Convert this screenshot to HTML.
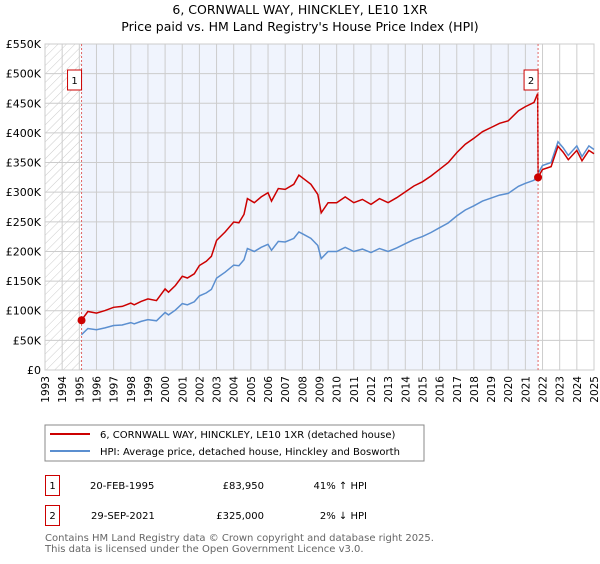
<!DOCTYPE html>
<html><head><meta charset="utf-8"><style>
body{margin:0;background:#fff;font-family:"DejaVu Sans","Liberation Sans",sans-serif;}
svg text{font-family:"DejaVu Sans","Liberation Sans",sans-serif;}
</style></head><body>
<svg id="chart" width="600" height="560" xmlns="http://www.w3.org/2000/svg">
<defs><pattern id="hatch" width="6" height="6" patternUnits="userSpaceOnUse" patternTransform="rotate(45)"><line x1="0" y1="0" x2="0" y2="6" stroke="#ccc" stroke-width="1"/></pattern></defs>
<text x="300" y="14" text-anchor="middle" font-size="12.5">6, CORNWALL WAY, HINCKLEY, LE10 1XR</text>
<text x="300" y="31" text-anchor="middle" font-size="12.5">Price paid vs. HM Land Registry's House Price Index (HPI)</text>
<g id="plot"></g>
<g id="legend">
<rect x="45" y="425" width="379" height="36" fill="#fff" stroke="#888"/>
<line x1="50" y1="434" x2="90" y2="434" stroke="#cc0000" stroke-width="2"/>
<text x="100" y="438" font-size="10">6, CORNWALL WAY, HINCKLEY, LE10 1XR (detached house)</text>
<line x1="50" y1="451" x2="90" y2="451" stroke="#5b8fd0" stroke-width="2"/>
<text x="100" y="455" font-size="10">HPI: Average price, detached house, Hinckley and Bosworth</text>
</g>
<g font-size="10">
<rect x="45.5" y="475.5" width="14" height="20" fill="#fff" stroke="#cc0000"/>
<text x="52.5" y="489" text-anchor="middle">1</text>
<text x="90" y="489">20-FEB-1995</text>
<text x="264" y="489" text-anchor="end">£83,950</text>
<text x="367" y="489" text-anchor="end">41% ↑ HPI</text>
<rect x="45.5" y="505.5" width="14" height="20" fill="#fff" stroke="#cc0000"/>
<text x="52.5" y="519" text-anchor="middle">2</text>
<text x="91" y="519">29-SEP-2021</text>
<text x="264" y="519" text-anchor="end">£325,000</text>
<text x="367" y="519" text-anchor="end">2% ↓ HPI</text>
</g>
<text x="45" y="541" font-size="10" fill="#666">Contains HM Land Registry data © Crown copyright and database right 2025.</text>
<text x="45" y="552" font-size="10" fill="#666">This data is licensed under the Open Government Licence v3.0.</text>
</svg>
<script>
const yearTicks=[1993,1994,1995,1996,1997,1998,1999,2000,2001,2002,2003,2004,2005,2006,2007,2008,2009,2010,2011,2012,2013,2014,2015,2016,2017,2018,2019,2020,2021,2022,2023,2024,2025];
const valueTicks=[0,50000,100000,150000,200000,250000,300000,350000,400000,450000,500000,550000];
const valueTickLabels=["£0","£50K","£100K","£150K","£200K","£250K","£300K","£350K","£400K","£450K","£500K","£550K"];
const hpiDates=[1995.13,1995.5,1996,1996.5,1997,1997.5,1998,1998.2,1998.6,1999,1999.5,2000,2000.2,2000.6,2001,2001.3,2001.7,2002,2002.4,2002.7,2003,2003.5,2004,2004.3,2004.6,2004.8,2005.2,2005.6,2006,2006.2,2006.6,2007,2007.5,2007.8,2008,2008.5,2008.9,2009.1,2009.5,2010,2010.5,2011,2011.5,2012,2012.5,2013,2013.5,2014,2014.5,2015,2015.5,2016,2016.5,2017,2017.5,2018,2018.5,2019,2019.5,2020,2020.6,2021,2021.5,2021.75,2022,2022.5,2022.9,2023.2,2023.5,2024,2024.3,2024.7,2025];
const hpiValues=[59500,70000,68000,71000,75000,76000,80000,78000,82000,85000,83000,97000,93000,101000,112000,110000,115000,125000,130000,136000,155000,165000,177000,176000,186000,205000,200000,207000,212000,202000,217000,216000,222000,233000,230000,222000,210000,188000,200000,200000,207000,200000,204000,198000,205000,200000,206000,213000,220000,225000,232000,240000,248000,260000,270000,277000,285000,290000,295000,298000,310000,315000,320000,332000,345000,350000,385000,375000,362000,378000,360000,378000,372000];
const saleDates=[1995.13,2021.74];
const salePrices=[83950,325000];
const NS="http://www.w3.org/2000/svg";
const L=45,R=594,T=44,B=370;
const xS=y=>L+(y-1993)/(2025-1993)*(R-L);
const yS=v=>B-v/550000*(B-T);
const plot=document.getElementById('plot');
function mk(tag,attrs,parent){const e=document.createElementNS(NS,tag);for(const k in attrs)e.setAttribute(k,attrs[k]);(parent||plot).appendChild(e);return e;}
mk('rect',{x:L,y:T,width:R-L,height:B-T,fill:'#fff'});
mk('rect',{x:L,y:T,width:xS(saleDates[0])-L,height:B-T,fill:'url(#hatch)'});
mk('rect',{x:xS(saleDates[0]),y:T,width:xS(saleDates[1])-xS(saleDates[0]),height:B-T,fill:'#f0f4fd'});
yearTicks.forEach(yr=>{const g=mk('line',{x1:xS(yr),x2:xS(yr),y1:T,y2:B,stroke:'#ccc'});

const t=mk('text',{x:0,y:0,'font-size':10.5,'text-anchor':'end',transform:`translate(${xS(yr)+4},${B+6}) rotate(-90)`});
t.textContent=yr;});
valueTicks.forEach((v,i)=>{const g=mk('line',{x1:L,x2:R,y1:yS(v),y2:yS(v),stroke:'#ccc'});

const t=mk('text',{x:L-4,y:yS(v)+4,'font-size':11,'text-anchor':'end'});
t.textContent=valueTickLabels[i];});
mk('rect',{x:L,y:T,width:R-L,height:B-T,fill:'none',stroke:'#ccc'});
// HPI line
const hp=mk('path',{d:hpiDates.map((d,i)=>(i?'L':'M')+xS(d).toFixed(1)+','+yS(hpiValues[i]).toFixed(1)).join(''),fill:'none',stroke:'#5b8fd0','stroke-width':1.5});

// property line indexed from sales
function hpiAt(d){for(let i=1;i<hpiDates.length;i++){if(d<=hpiDates[i]){const f=(d-hpiDates[i-1])/(hpiDates[i]-hpiDates[i-1]);return hpiValues[i-1]+f*(hpiValues[i]-hpiValues[i-1]);}}return hpiValues[hpiValues.length-1];}
const r1=salePrices[0]/hpiAt(saleDates[0]),r2=salePrices[1]/hpiAt(saleDates[1]);
let pts=[];
hpiDates.forEach((d,i)=>{if(d<saleDates[1])pts.push([d,hpiValues[i]*r1]);});
pts.push([saleDates[1]-0.02,hpiAt(saleDates[1]-0.02)*r1]);
pts.push([saleDates[1],salePrices[1]]);
hpiDates.forEach((d,i)=>{if(d>saleDates[1])pts.push([d,hpiValues[i]*r2]);});
const pp=mk('path',{d:pts.map((p,i)=>(i?'L':'M')+xS(p[0]).toFixed(1)+','+yS(p[1]).toFixed(1)).join(''),fill:'none',stroke:'#cc0000','stroke-width':1.5});

saleDates.forEach((d,i)=>{
const vl=mk('line',{x1:xS(d),x2:xS(d),y1:T,y2:B,stroke:'#e06666','stroke-dasharray':'2,2'});

const c=mk('circle',{cx:xS(d),cy:yS(salePrices[i]),r:4,fill:'#cc0000'});

const bx=mk('rect',{x:xS(d)-14,y:70,width:14,height:20,fill:'#fff',stroke:'#cc0000'});

const t=mk('text',{x:xS(d)-7,y:84,'font-size':10,'text-anchor':'middle'});
t.textContent=i+1;});
</script>
</body></html>
